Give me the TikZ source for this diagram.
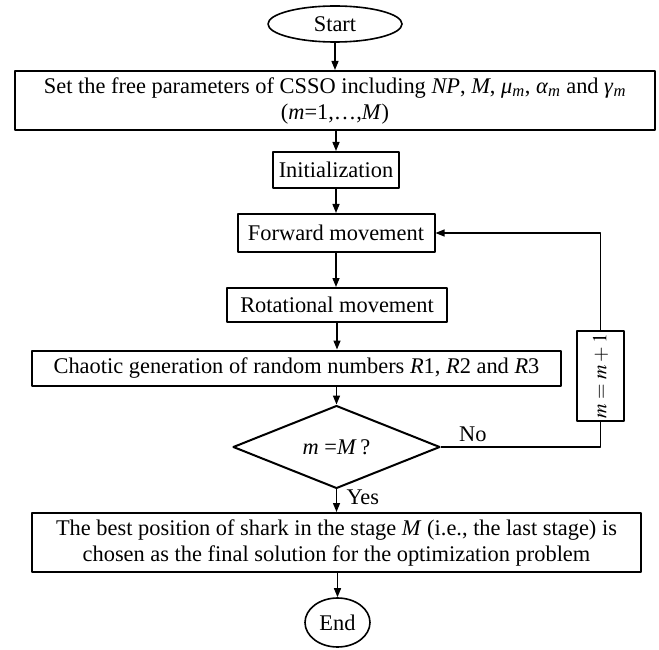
\documentclass[tikz,border=0pt]{standalone}
\usepackage{mathptmx}
\usepackage{fontspec}
\setmainfont{Liberation Serif}
\usetikzlibrary{arrows.meta,shapes.geometric,calc}
\newcommand\subm[1]{\textit{#1}\textsubscript{\textit{m}}}

\begin{document}
\begin{tikzpicture}[x=1pt, y=-1pt, line join=round,
  font=\fontsize{22.4}{26}\selectfont,
  box/.style={draw, line width=2pt, inner sep=0pt, align=center},
  term/.style={draw, ellipse, line width=1.6pt, inner sep=0pt},
  arr/.style={-{Triangle[length=9pt,width=7pt]}, line width=1.4pt},
  back/.style={line width=1.2pt}]
\useasboundingbox (0,0) rectangle (659,650);
% terminals
\node[term, minimum width=134pt, minimum height=36pt] (start) at (335,24) {Start};
\node[term, minimum width=65pt, minimum height=49pt] (stop) at (337.5,622.5) {End};
% process boxes
\node[box, minimum width=640pt, minimum height=59pt] (set) at (335,100.5)
  {Set the free parameters of CSSO including \textit{NP}, \textit{M}, \subm{μ}, \subm{α} and \subm{γ}\\
   (\textit{m}=1,\ldots,\textit{M})};
\node[box, minimum width=126pt, minimum height=36pt] (init)  at (336,170)   {Initialization};
\node[box, minimum width=197pt, minimum height=38pt] (fwd)   at (336,233)   {Forward movement};
\node[box, minimum width=220pt, minimum height=34pt] (rot)   at (337,305)   {Rotational movement};
\node[box, minimum width=529pt, minimum height=35pt] (chaos) at (296.5,368)
  {Chaotic generation of random numbers \textit{R}1, \textit{R}2 and \textit{R}3};
\node[draw, diamond, line width=2pt, inner sep=0pt, minimum width=207pt, minimum height=65pt]
  (dec) at (336.5,447) {\textit{m} =\textit{M}\,?};
\node[box, rotate=90, minimum width=90pt, minimum height=47pt, font=\fontsize{20}{24}\selectfont]
  (upd) at (600.5,376) {$m=m+1$};
\coordinate (updtop) at ($(upd)+(0,-45)$);
\coordinate (updbot) at ($(upd)+(0,45)$);
\node[box, minimum width=609pt, minimum height=59pt] (best) at (336.5,542.5)
  {The best position of shark in the stage \textit{M} (i.e., the last stage) is\\
   chosen as the final solution for the optimization problem};
% main flow
\draw[arr] (start) -- (start |- set.north);
\draw[arr] (init |- set.south) -- (init.north);
\draw[arr] (init) -- (fwd);
\draw[arr] (fwd) -- (fwd.south |- rot.north);
\draw[arr] (rot.south) -- (rot.south |- chaos.north);
\draw[arr] (dec.north |- chaos.south) -- (dec.north);
\draw[arr] (dec.south) -- node[right, pos=0.35, xshift=6pt] {Yes} (dec.south |- best.north);
\draw[arr] (best.south -| stop) -- (stop.north);
% feedback loop
\draw[back] (dec.east) -- node[above, pos=0.2, yshift=1pt] {No} (dec.east -| updbot) -- (updbot);
\draw[back, arr, line width=1.2pt] (updtop) |- (fwd.east);
\end{tikzpicture}
\end{document}
